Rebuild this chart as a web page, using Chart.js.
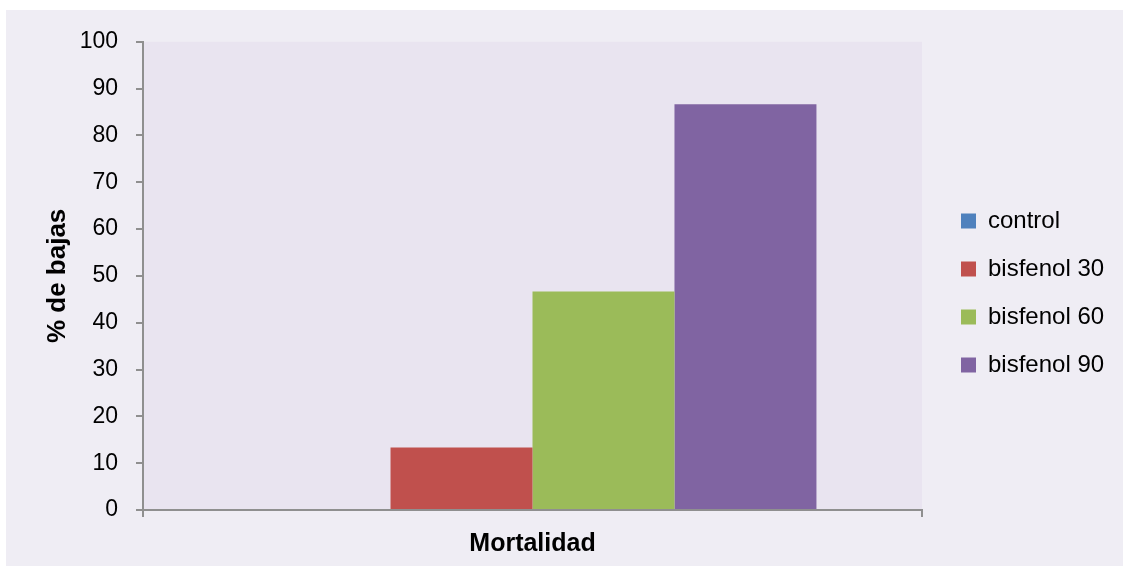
<!DOCTYPE html>
<html>
<head>
<meta charset="utf-8">
<title>Mortalidad</title>
<script src="https://cdn.jsdelivr.net/npm/chart.js@4/dist/chart.umd.min.js"></script>
<style>
  html, body { margin: 0; padding: 0; background: #efedf4; }
  body { height: 100vh; }
  .edge { position: fixed; background: #ffffff; z-index: 2; }
  #edgeTop { left: 0; top: 0; right: 0; height: 10px; }
  #edgeLeft { left: 0; top: 0; bottom: 0; width: 6px; }
  #chart {
    position: absolute; left: 6px; top: 10px;
    display: block;
  }
</style>
</head>
<body>
<div class="edge" id="edgeTop"></div>
<div class="edge" id="edgeLeft"></div>
<canvas id="chart" width="1117" height="556"></canvas>
<script>
// Category and series data
const categories = ['Mortalidad'];
const seriesNames = ['control', 'bisfenol 30', 'bisfenol 60', 'bisfenol 90'];
const controlValues = [0];
const bisfenol30Values = [13.33];
const bisfenol60Values = [46.67];
const bisfenol90Values = [86.67];
const yTickValues = [0, 10, 20, 30, 40, 50, 60, 70, 80, 90, 100];

const seriesValues = [controlValues, bisfenol30Values, bisfenol60Values, bisfenol90Values];
const seriesColors = ['#4f81bd', '#c0504d', '#9bbb59', '#8064a2'];

const AXIS_COLOR = '#8f8f8f';
const FONT = "'Liberation Sans', Arial, sans-serif";

Chart.defaults.font.family = FONT;
Chart.defaults.color = '#000000';

// Paints the chart background and the lavender plot area
const backgrounds = {
  id: 'backgrounds',
  beforeDraw(chart) {
    const { ctx, chartArea: a, width, height } = chart;
    ctx.save();
    ctx.fillStyle = '#efedf4';
    ctx.fillRect(0, 0, width, height);
    ctx.fillStyle = '#e9e4f0';
    ctx.fillRect(a.left, a.top, a.right - a.left, a.bottom - a.top);
    ctx.restore();
  }
};

// Legend column: fixed width, and its items centred on a band above the category label
const LEGEND_WIDTH = 186;
const LEGEND_BAND = { top: 30, bottom: 536 };
const legendPlacement = {
  id: 'legendPlacement',
  beforeLayout(chart) {
    const lg = chart.legend;
    if (lg && !lg._fixedWidth) {
      const fit = lg.fit.bind(lg);
      lg.fit = function () { fit(); this.width = LEGEND_WIDTH; };
      lg._fixedWidth = true;
    }
  },
  afterLayout(chart) {
    const lg = chart.legend;
    if (lg) {
      lg.top = LEGEND_BAND.top;
      lg.bottom = LEGEND_BAND.bottom;
      lg.height = LEGEND_BAND.bottom - LEGEND_BAND.top;
    }
  }
};

new Chart(document.getElementById('chart'), {
  type: 'bar',
  data: {
    labels: categories,
    datasets: seriesNames.map((name, i) => ({
      label: name,
      data: seriesValues[i],
      backgroundColor: seriesColors[i],
      borderWidth: 0,
      categoryPercentage: 0.729,
      barPercentage: 1
    }))
  },
  options: {
    responsive: false,
    animation: false,
    devicePixelRatio: 1,
    layout: { padding: { left: 30, top: 30, right: 0, bottom: 0 } },
    plugins: {
      tooltip: { enabled: false },
      legend: {
        position: 'right',
        align: 'center',
        labels: {
          boxWidth: 15,
          boxHeight: 15,
          padding: 24,
          color: '#000000',
          font: { size: 24, family: FONT }
        }
      }
    },
    scales: {
      x: {
        grid: {
          display: true,
          drawOnChartArea: false,
          drawTicks: true,
          tickLength: 7,
          color: AXIS_COLOR,
          lineWidth: 2
        },
        border: { display: true, color: AXIS_COLOR, width: 2 },
        ticks: {
          padding: 12,
          color: '#000000',
          font: { size: 25, weight: 'bold', family: FONT }
        },
        afterFit(scale) { scale.height = 56; }
      },
      y: {
        min: 0,
        max: 100,
        afterBuildTicks(scale) { scale.ticks = yTickValues.map(v => ({ value: v })); },
        grid: {
          display: true,
          drawOnChartArea: false,
          drawTicks: true,
          tickLength: 7,
          color: AXIS_COLOR,
          lineWidth: 2
        },
        border: { display: true, color: AXIS_COLOR, width: 2 },
        ticks: {
          padding: 18,
          color: '#000000',
          font: { size: 23, family: FONT }
        },
        title: {
          display: true,
          text: '% de bajas',
          color: '#000000',
          padding: { top: 6, bottom: 0 },
          font: { size: 26, weight: 'bold', family: FONT }
        },
        afterFit(scale) { scale.width = 107; }
      },
      gap: {
        position: 'right',
        display: true,
        grid: { display: false },
        border: { display: false },
        ticks: { display: false },
        afterFit(scale) { scale.width = 15; }
      }
    }
  },
  plugins: [backgrounds, legendPlacement]
});
</script>
</body>
</html>
